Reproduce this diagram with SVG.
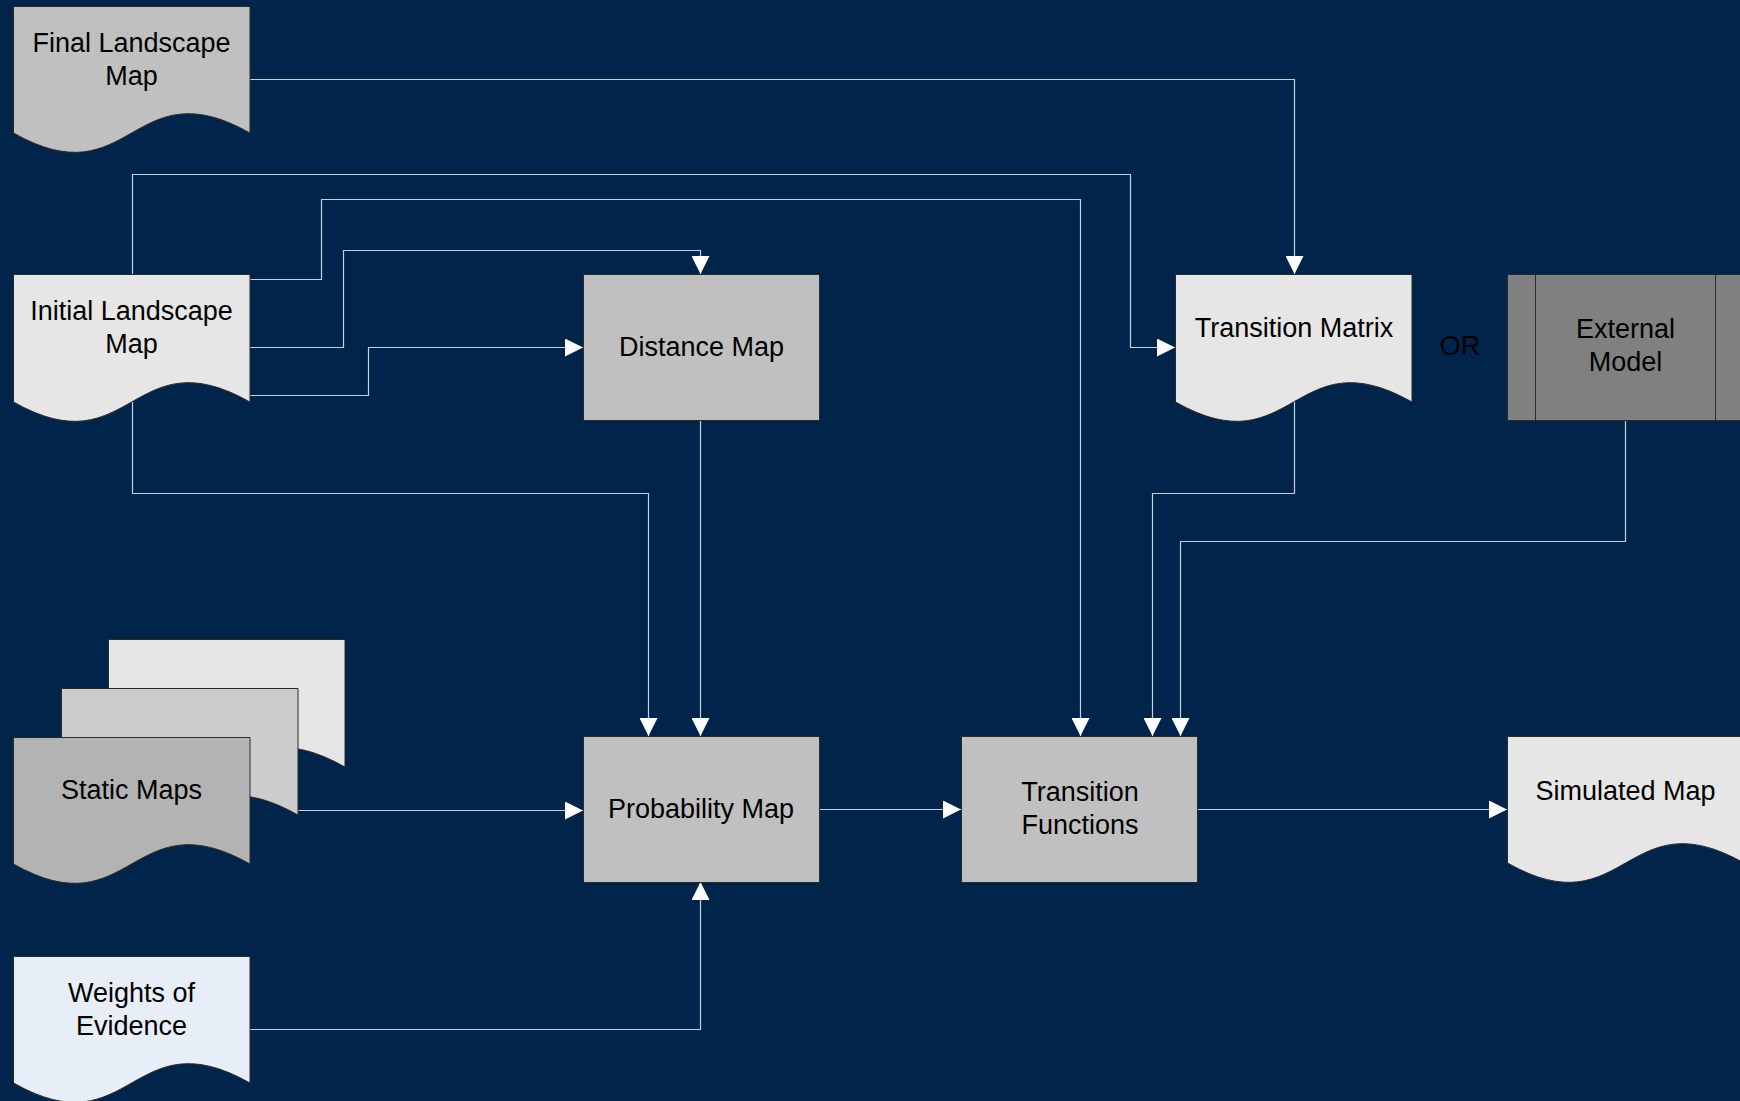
<svg xmlns="http://www.w3.org/2000/svg" width="1740" height="1101" viewBox="0 0 1740 1101">
<defs>
<marker id="arr" markerUnits="userSpaceOnUse" markerWidth="18" markerHeight="18" refX="18" refY="9" orient="auto">
<path d="M0,0 L18,9 L0,18 Z" fill="#ffffff"/>
</marker>
<style>
.bg{fill:#00244a}
.node{stroke:#2a2a2a;stroke-width:1}
.lt{fill:#e6e6e6}
.md{fill:#c0c0c0}
.dk{fill:#808080}
.wo{fill:#e8eef8}
.c{fill:none;stroke:#c5cfdc;stroke-width:1.2;marker-end:url(#arr)}
.t{font-family:"Liberation Sans",Arial,sans-serif;font-size:27px;fill:#000;text-anchor:middle}
</style>
</defs>
<rect class="bg" x="0" y="0" width="1740" height="1101"/>

<g id="connectors">
<path class="c" d="M250,79.5 H1294.5 V274"/>
<path class="c" d="M132.5,274 V174.5 H1130.5 V347.5 H1175"/>
<path class="c" d="M250,279.5 H321.5 V199.5 H1080.5 V736"/>
<path class="c" d="M250,347.5 H343.5 V250.5 H700.5 V274"/>
<path class="c" d="M250,395.5 H368.5 V347.5 H583"/>
<path class="c" d="M132.5,402 V493.5 H648.5 V736"/>
<path class="c" d="M700.5,420 V736"/>
<path class="c" d="M297,810.5 H583"/>
<path class="c" d="M250,1029.5 H700.5 V882"/>
<path class="c" d="M819,809.5 H961"/>
<path class="c" d="M1198,809.5 H1507"/>
<path class="c" d="M1294.5,402 V493.5 H1152.5 V736"/>
<path class="c" d="M1625.5,420 V541.5 H1180.5 V736"/>
</g>

<g id="final-landscape-map">
<path class="node md" d="M13.5,6.5 H250 V133 C131.5,66 131.5,200 13.5,133 Z"/>
<text class="t" x="131.5" y="52">Final Landscape</text>
<text class="t" x="131.5" y="85">Map</text>
</g>

<g id="initial-landscape-map">
<path class="node lt" d="M13.5,274.5 H250 V402 C131.5,335 131.5,469 13.5,402 Z"/>
<text class="t" x="131.5" y="320">Initial Landscape</text>
<text class="t" x="131.5" y="353">Map</text>
</g>

<g id="distance-map">
<rect class="node md" x="583.5" y="274.5" width="236" height="146"/>
<text class="t" x="701.5" y="356">Distance Map</text>
</g>

<g id="transition-matrix">
<path class="node lt" d="M1175.5,274.5 H1412 V402 C1293.5,335 1293.5,469 1175.5,402 Z"/>
<text class="t" x="1294" y="337">Transition Matrix</text>
</g>

<g id="or-label">
<text class="t" x="1460" y="355">OR</text>
</g>

<g id="external-model">
<rect class="node dk" x="1507.5" y="274.5" width="236" height="146"/>
<line class="node" x1="1535.5" y1="274.5" x2="1535.5" y2="420.5"/>
<line class="node" x1="1715.5" y1="274.5" x2="1715.5" y2="420.5"/>
<text class="t" x="1625.5" y="338">External</text>
<text class="t" x="1625.5" y="371">Model</text>
</g>

<g id="static-maps">
<path class="node lt" d="M108.5,639.5 H345 V767 C226.5,700 226.5,834 108.5,767 Z"/>
<path class="node" fill="#cccccc" d="M61.5,688.5 H298 V815 C179.5,748 179.5,882 61.5,815 Z"/>
<path class="node" fill="#b3b3b3" d="M13.5,737.5 H250 V864 C131.5,797 131.5,931 13.5,864 Z"/>
<text class="t" x="131.5" y="799">Static Maps</text>
</g>

<g id="probability-map">
<rect class="node md" x="583.5" y="736.5" width="236" height="146"/>
<text class="t" x="701" y="818">Probability Map</text>
</g>

<g id="transition-functions">
<rect class="node md" x="961.5" y="736.5" width="236" height="146"/>
<text class="t" x="1080" y="801">Transition</text>
<text class="t" x="1080" y="834">Functions</text>
</g>

<g id="simulated-map">
<path class="node lt" d="M1507.5,736.5 H1744 V863 C1625.5,796 1625.5,930 1507.5,863 Z"/>
<text class="t" x="1625.5" y="800">Simulated Map</text>
</g>

<g id="weights-of-evidence">
<path class="node wo" d="M13.5,956.5 H250 V1083 C131.5,1016 131.5,1150 13.5,1083 Z"/>
<text class="t" x="131.5" y="1002">Weights of</text>
<text class="t" x="131.5" y="1035">Evidence</text>
</g>
</svg>
